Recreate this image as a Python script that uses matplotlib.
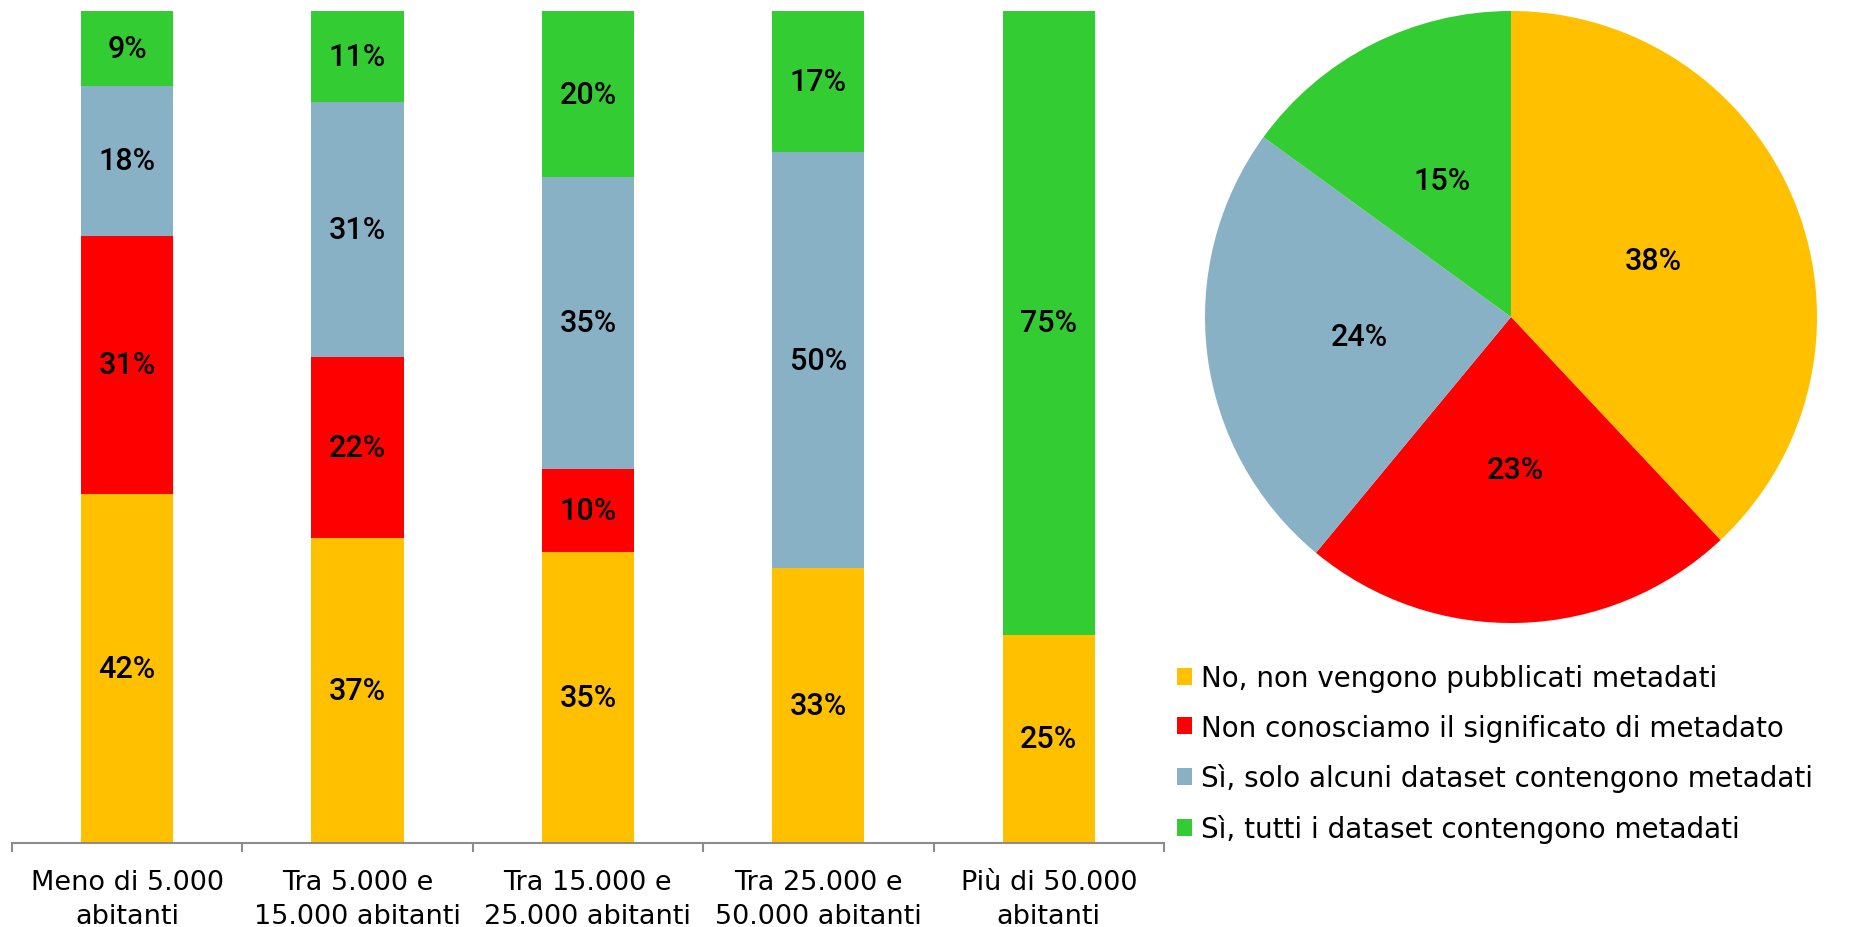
import numpy as np
from matplotlib import pyplot as plt
from matplotlib.patches import Patch

categories = ["Meno di 5.000\nabitanti", "Tra 5.000 e\n15.000 abitanti", "Tra 15.000 e\n25.000 abitanti",
              "Tra 25.000 e\n50.000 abitanti", "Più di 50.000\nabitanti"]
series_names = ["No, non vengono pubblicati metadati", "Non conosciamo il significato di metadato",
                "Sì, solo alcuni dataset contengono metadati", "Sì, tutti i dataset contengono metadati"]
no_metadati = [42, 37, 35, 33, 25]
non_conosciamo = [31, 22, 10, 0, 0]
solo_alcuni = [18, 31, 35, 50, 0]
tutti = [9, 11, 20, 17, 75]
pie_values = [38, 23, 24, 15]

colors = ["#FFC000", "#FF0000", "#89B1C6", "#33CC33"]

label_font = dict(family=["Roboto", "DejaVu Sans"], fontweight="medium", fontsize=22, color="black")

fig = plt.figure(figsize=(18.58, 9.28), dpi=100)

# --- stacked bars ---
ax = fig.add_axes([11.8 / 1858, 1 - 844 / 928, (1164 - 11.8) / 1858, 832 / 928])
series = np.array([no_metadati, non_conosciamo, solo_alcuni, tutti], dtype=float)
totals = series.sum(axis=0)
x = np.arange(len(categories))
bottom = np.zeros(len(categories))
for values, color in zip(series, colors):
    heights = values / totals
    ax.bar(x, heights, width=0.4, bottom=bottom, color=color, linewidth=0)
    for xi, h, b, v in zip(x, heights, bottom, values):
        if v > 0:
            ax.text(xi, b + h / 2, f"{v:.0f}%", ha="center", va="center", **label_font)
    bottom += heights

ax.set_xlim(-0.5, len(categories) - 0.5)
ax.set_ylim(0, 1)
ax.set_yticks([])
for side in ["left", "right", "top"]:
    ax.spines[side].set_visible(False)
ax.spines["bottom"].set_color("#8C8C8C")
ax.spines["bottom"].set_linewidth(1.5)
ax.set_xticks(x)
ax.set_xticklabels(categories, fontsize=19.5, linespacing=1.4)
ax.set_xticks(np.arange(len(categories) + 1) - 0.5, minor=True)
ax.tick_params(axis="x", which="major", length=0, pad=18.5)
ax.tick_params(axis="x", which="minor", length=6.5, width=1.5, color="#8C8C8C")

# --- pie ---
r, cx, cy = 306, 1511, 318
pax = fig.add_axes([(cx - r) / 1858, 1 - (cy + r) / 928, 2 * r / 1858, 2 * r / 928])
wedges, _, autotexts = pax.pie(pie_values, colors=colors, startangle=90, counterclock=False,
                               autopct="%.0f%%", pctdistance=0.5, wedgeprops=dict(linewidth=0))
for t in autotexts:
    t.set(**label_font)
pax.set_xlim(-1, 1)
pax.set_ylim(-1, 1)
pax.set_aspect("equal")

handles = [Patch(facecolor=c, edgecolor="none") for c in colors]
fig.legend(handles, series_names, loc="upper left", bbox_to_anchor=(1177 / 1858, 1 - 665 / 928),
           frameon=False, fontsize=20, handlelength=0.55, handleheight=0.55, handletextpad=0.3,
           labelspacing=0.78, borderpad=0, borderaxespad=0)

fig.savefig("out.png", dpi=100)
